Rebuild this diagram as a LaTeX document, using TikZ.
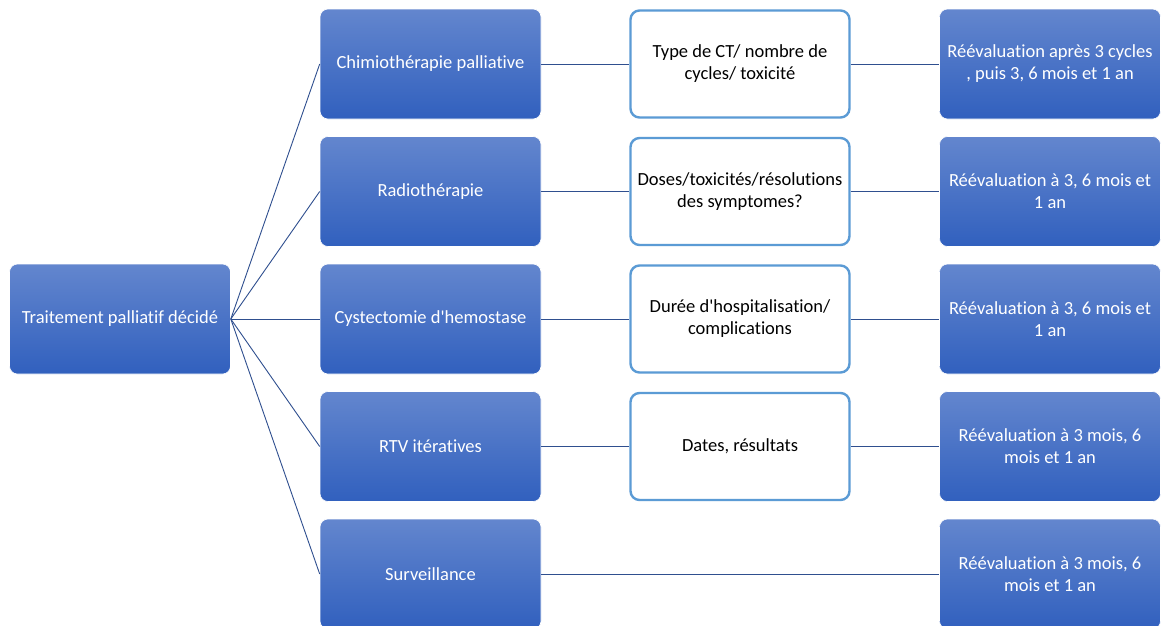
\documentclass[tikz,border=0pt]{standalone}
\usepackage{fontspec}
\setmainfont{Carlito}[Ligatures={TeXOff,NoCommon}]
\definecolor{btop}{RGB}{99,134,206}
\definecolor{bbot}{RGB}{49,96,190}
\definecolor{wline}{RGB}{91,155,213}
\definecolor{conn}{RGB}{47,79,143}
\begin{document}
\begin{tikzpicture}[x=1pt,y=-1pt,
  boxtext/.style={align=center, font=\fontsize{18.5}{22}\selectfont, yshift=-1pt},
  bluebox/.style={boxtext, rectangle, rounded corners=8pt,
    minimum width=221pt, minimum height=110pt,
    top color=btop, bottom color=bbot, draw=white, line width=0.6pt,
    text=white},
  whitebox/.style={boxtext, rectangle, rounded corners=9pt,
    minimum width=219pt, minimum height=107pt,
    fill=white, draw=wline, line width=2.4pt, text=black},
  link/.style={draw=conn, line width=0.9pt}]
\useasboundingbox (0,0) rectangle (1162,625);
\fill[white] (0,0) rectangle (1162,625);

% root
\node[bluebox] (root) at (120,318) {Traitement palliatif décidé};

% treatments
\node[bluebox] (t1) at (430.5,63)    {Chimiothérapie palliative};
\node[bluebox] (t2) at (430.5,190.5) {Radiothérapie};
\node[bluebox] (t3) at (430.5,318)   {Cystectomie d'hemostase};
\node[bluebox] (t4) at (430.5,445.5) {RTV itératives};
\node[bluebox] (t5) at (430.5,573)   {Surveillance};

% follow-up data
\node[whitebox] (d1) at (740,63)    {Type de CT/ nombre de\\cycles/ toxicité};
\node[whitebox] (d2) at (740,190.5) {Doses/toxicités/résolutions\\des symptomes?};
\node[whitebox] (d3) at (740,318)   {Durée d'hospitalisation/\\complications};
\node[whitebox] (d4) at (740,445.5) {Dates, résultats};

% re-evaluation
\node[bluebox] (r1) at (1050,63)    {Réévaluation après 3 cycles\\, puis 3, 6 mois et 1 an};
\node[bluebox] (r2) at (1050,190.5) {Réévaluation à 3, 6 mois et\\1 an};
\node[bluebox] (r3) at (1050,318)   {Réévaluation à 3, 6 mois et\\1 an};
\node[bluebox] (r4) at (1050,445.5) {Réévaluation à 3 mois, 6\\mois et 1 an};
\node[bluebox] (r5) at (1050,573)   {Réévaluation à 3 mois, 6\\mois et 1 an};

% connectors
\foreach \i in {1,...,5}
  \path[link] (root.east) -- (t\i.west);
\foreach \i in {1,...,4} {
  \path[link] (t\i.east) -- (d\i.west);
  \path[link] (d\i.east) -- (r\i.west);
}
\path[link] (t5.east) -- (r5.west);
\end{tikzpicture}
\end{document}
